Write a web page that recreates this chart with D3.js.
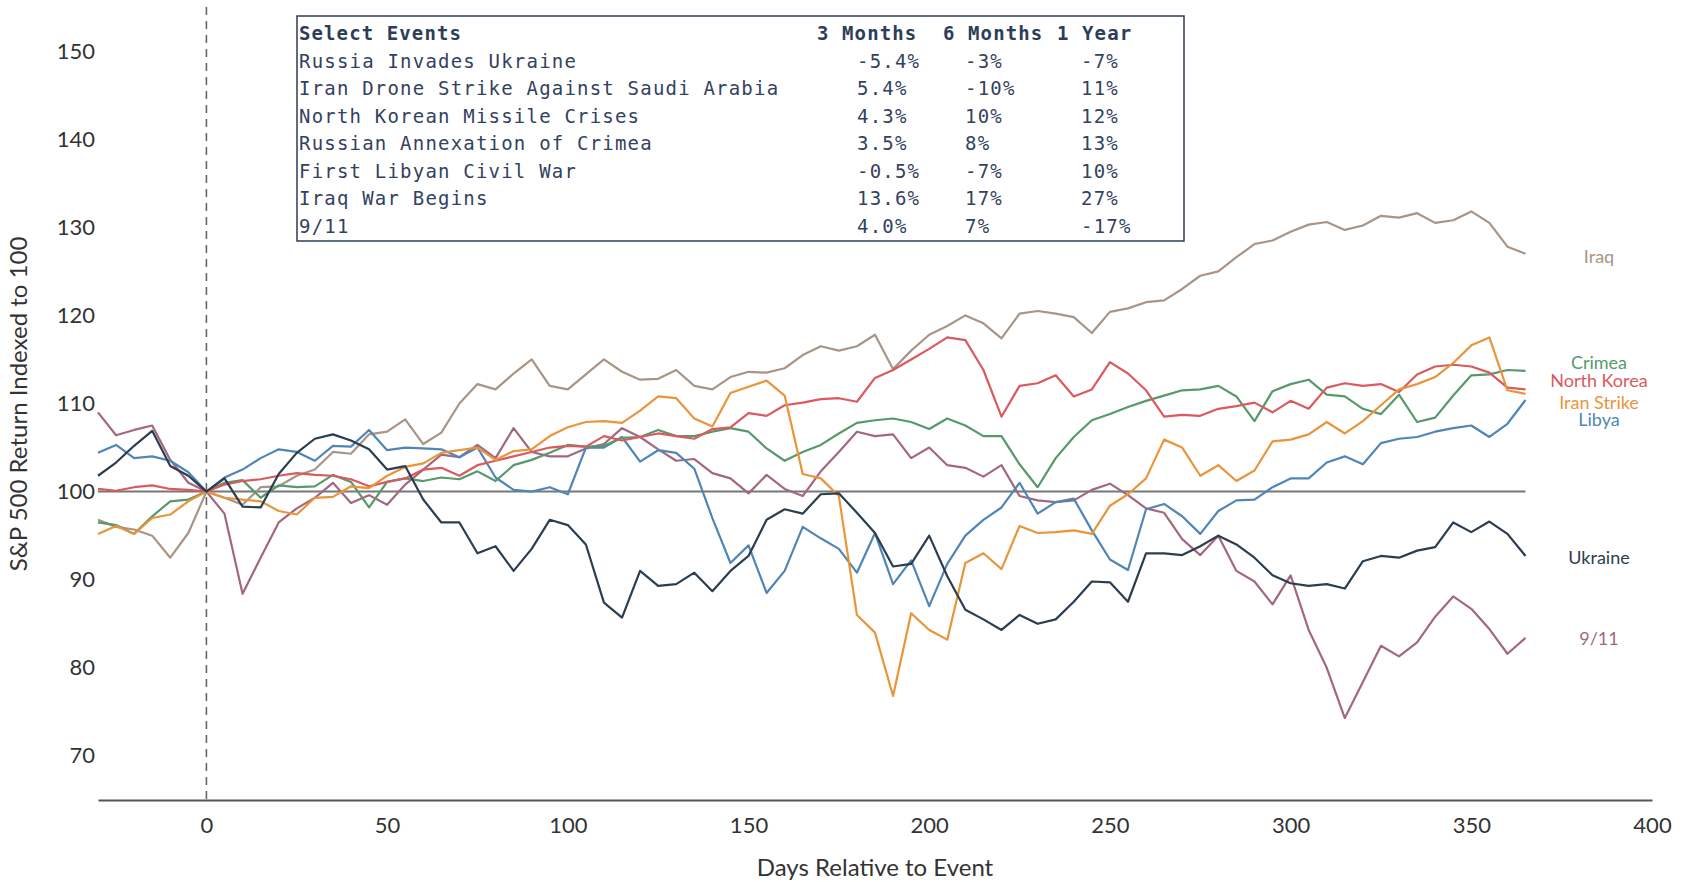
<!DOCTYPE html>
<html>
<head>
<meta charset="utf-8">
<script src="https://cdn.jsdelivr.net/npm/d3@7"></script>
<style>
body { margin: 0; background: #fff; }
svg text { font-family: Lato, "Open Sans", sans-serif; }
.tbl text { font-family: "DejaVu Sans Mono", monospace; }
</style>
</head>
<body>
<svg id="chart" width="1688" height="882"></svg>
<script>
// days relative to event (x values shared by all series)
var days = [-30,-25,-20,-15,-10,-5,0,5,10,15,20,25,30,35,40,45,50,55,60,65,70,75,80,85,90,95,
  100,105,110,115,120,125,130,135,140,145,150,155,160,165,170,175,180,185,190,195,
  200,205,210,215,220,225,230,235,240,245,250,255,260,265,270,275,280,285,290,295,
  300,305,310,315,320,325,330,335,340,345,350,355,360,365];

// S&P 500 indexed to 100
var iraq = [96.8,96,95.7,95,92.5,95.3,100,99.3,98.5,100.5,100.6,101.8,102.5,104.5,104.3,106.5,106.8,108.2,105.4,106.7,110,112.2,111.6,113.4,115,112,
  111.6,113.3,115,113.6,112.7,112.8,113.8,112,111.6,113,113.6,113.5,114,115.5,116.5,116,116.5,117.8,113.9,116,
  117.8,118.8,120,119.1,117.4,120.2,120.5,120.2,119.8,118,120.4,120.8,121.5,121.7,123,124.5,125,126.6,128.1,128.5,
  129.5,130.3,130.6,129.7,130.2,131.3,131.1,131.6,130.5,130.8,131.8,130.5,127.8,127];
var crimea = [96.5,96.2,95.2,97.2,98.9,99.1,100,101,101.3,99.3,100.7,100.5,100.6,101.9,101.1,98.2,101.1,101.5,101.2,101.6,101.4,102.3,101.2,103,103.6,104.4,
  105.3,105.1,105.2,106.1,106.2,107,106.3,106.3,106.8,107.2,106.8,104.9,103.5,104.5,105.3,106.6,107.8,108.1,108.3,107.9,
  107.1,108.3,107.5,106.3,106.3,103.1,100.5,103.8,106.2,108.1,108.8,109.6,110.3,110.9,111.5,111.6,112,110.8,108,111.4,
  112.2,112.7,111,110.8,109.4,108.8,111,107.9,108.4,110.9,113.2,113.3,113.8,113.7];
var northKorea = [100.3,100.1,100.5,100.7,100.3,100.2,100,100.8,101.2,101.4,101.8,102.1,101.9,101.8,101.4,100.6,101.1,101.5,102.5,102.7,101.8,103,103.5,104,104.5,105,
  105.2,105.1,106.3,105.8,106.2,106.6,106.3,106,107.1,107.3,108.9,108.6,109.8,110.1,110.5,110.6,110.2,112.9,113.8,115,
  116.2,117.5,117.2,113.8,108.5,112,112.3,113.2,110.8,111.6,114.7,113.4,111.5,108.5,108.7,108.6,109.4,109.7,110.1,109,
  110.3,109.4,111.8,112.3,112,112.2,111.3,113.3,114.2,114.4,114.2,113.5,111.8,111.6];
var iranStrike = [95.2,96.1,95.2,97,97.4,98.9,100,99.3,99.1,98.9,97.8,97.4,99.3,99.4,100.6,100.4,101.8,102.8,103.2,104.4,104.7,105,103.6,104.6,104.8,106.3,
  107.3,107.9,108,107.8,109.2,110.8,110.6,108.3,107.4,111.2,111.9,112.6,110.9,102,101.5,99.5,86,84,76.8,86.2,
  84.3,83.2,91.9,93,91.2,96.1,95.3,95.4,95.6,95.2,98.4,99.7,101.5,105.9,105,101.8,103,101.2,102.4,105.7,
  105.9,106.5,107.9,106.6,108,109.8,111.6,112.2,113,114.6,116.6,117.5,111.5,111.1];
var libya = [104.4,105.3,103.8,104,103.5,102.2,100,101.6,102.5,103.8,104.8,104.5,103.5,105.2,105.1,107,104.7,105,104.9,104.8,103.9,105,101.6,100.2,100,100.5,
  99.7,105,105,106.2,103.4,104.7,104.4,102.6,97,91.9,93.9,88.5,91,96,94.7,93.5,90.8,95.3,89.5,92.2,
  87,91.8,95,96.8,98.2,101,97.5,98.8,99.2,95.6,92.3,91.1,98,98.6,97.2,95.2,97.8,99,99.1,100.5,
  101.5,101.5,103.3,104,103.1,105.5,106,106.2,106.8,107.2,107.5,106.2,107.7,110.4];
var ukraine = [101.8,103.3,105.2,106.9,102.9,101.8,100,101.5,98.3,98.2,102,104.4,106,106.5,105.8,104.8,102.5,102.9,99.1,96.5,96.5,93,93.8,91,93.5,96.8,
  96.2,94,87.4,85.7,91,89.3,89.5,90.8,88.7,91,92.7,96.8,98,97.5,99.7,99.8,97.6,95.3,91.5,91.8,
  95,90.4,86.6,85.5,84.3,86,85,85.5,87.5,89.8,89.7,87.5,93,93,92.8,93.8,95,94,92.5,90.5,
  89.6,89.3,89.5,89,92.1,92.7,92.5,93.3,93.7,96.5,95.4,96.6,95.2,92.7];
var nineEleven = [109,106.4,107,107.5,103.6,101,100,97.5,88.4,92.5,96.5,98.1,99.3,101,98.7,99.6,98.5,100.8,102.5,104.2,103.9,105.3,103.8,107.2,104.5,104,
  104,104.9,105.4,107.2,106.2,104.8,103.5,103.7,102.1,101.5,99.8,101.9,100.3,99.5,102.3,104.5,106.8,106.3,106.5,103.8,
  105,103,102.7,101.7,103,99.5,99,98.8,99,100.2,100.9,99.6,98.1,97.6,94.6,92.8,95,91,89.8,87.2,
  90.5,84.3,80,74.3,78.4,82.5,81.3,82.9,85.8,88.1,86.7,84.4,81.6,83.4];

var seriesNames = ["Iraq", "9/11", "Libya", "Crimea", "North Korea", "Iran Strike", "Ukraine"];
var seriesValues = [iraq, nineEleven, libya, crimea, northKorea, iranStrike, ukraine];

// table
var tableHeader = ["Select Events", "3 Months", "6 Months", "1 Year"];
var eventNames = ["Russia Invades Ukraine", "Iran Drone Strike Against Saudi Arabia", "North Korean Missile Crises",
  "Russian Annexation of Crimea", "First Libyan Civil War", "Iraq War Begins", "9/11"];
var ret3m = ["-5.4%", "5.4%", "4.3%", "3.5%", "-0.5%", "13.6%", "4.0%"];
var ret6m = ["-3%", "-10%", "10%", "8%", "-7%", "17%", "7%"];
var ret1y = ["-7%", "11%", "12%", "13%", "10%", "27%", "-17%"];

var xTicks = [0, 50, 100, 150, 200, 250, 300, 350, 400];
var yTicks = [70, 80, 90, 100, 110, 120, 130, 140, 150];

// ---- drawing ----
var colors = {
  "Iraq": "#a89585", "9/11": "#a3687f", "Libya": "#4f86b7", "Crimea": "#57996a",
  "North Korea": "#d95a5f", "Iran Strike": "#e8953b", "Ukraine": "#2b3e50"
};
// where each end label sits, in index units
var labelAt = { "Iraq": 126.7, "Crimea": 114.6, "North Korea": 112.6, "Iran Strike": 110.1,
  "Libya": 108.2, "Ukraine": 92.5, "9/11": 83.3 };

var svg = d3.select("#chart");
var x = d3.scaleLinear().domain([-30, 400]).range([98, 1652]);
var y = d3.scaleLinear().domain([65, 155]).range([800, 7]);

// x axis
var gx = svg.append("g")
  .attr("transform", "translate(0,800)")
  .call(d3.axisBottom(x).tickValues(xTicks).tickSize(0).tickSizeOuter(0).tickPadding(17));
gx.select(".domain").attr("stroke", "#555").attr("stroke-width", 2);
gx.selectAll("text").attr("fill", "#333").style("font-size", "22px");

// y axis
var gy = svg.append("g")
  .attr("transform", "translate(98,0)")
  .call(d3.axisLeft(y).tickValues(yTicks).tickSize(0).tickPadding(3));
gy.select(".domain").remove();
gy.selectAll("text").attr("fill", "#333").style("font-size", "22px");

svg.append("text")
  .attr("x", 875).attr("y", 876)
  .attr("text-anchor", "middle")
  .attr("fill", "#333").style("font-size", "24px")
  .text("Days Relative to Event");

svg.append("text")
  .attr("transform", "translate(27,404) rotate(-90)")
  .attr("text-anchor", "middle")
  .attr("fill", "#333").style("font-size", "24px")
  .text("S&P 500 Return Indexed to 100");

// event day marker and baseline
svg.append("line")
  .attr("x1", x(0)).attr("x2", x(0)).attr("y1", y(155)).attr("y2", y(65))
  .attr("stroke", "#666").attr("stroke-width", 1.6).attr("stroke-dasharray", "8,6");
svg.append("line")
  .attr("x1", x(-30)).attr("x2", x(365)).attr("y1", y(100)).attr("y2", y(100))
  .attr("stroke", "#777").attr("stroke-width", 2);

var line = d3.line()
  .x(function (d) { return x(d[0]); })
  .y(function (d) { return y(d[1]); });

for (var i = 0; i < seriesNames.length; i++) {
  var pts = days.map(function (d, j) { return [d, seriesValues[i][j]]; });
  svg.append("path")
    .datum(pts)
    .attr("fill", "none")
    .attr("stroke", colors[seriesNames[i]])
    .attr("stroke-width", 2.2)
    .attr("stroke-linejoin", "round")
    .attr("d", line);

  svg.append("text")
    .attr("x", 1599).attr("y", y(labelAt[seriesNames[i]]))
    .attr("dy", "0.35em")
    .attr("text-anchor", "middle")
    .attr("fill", colors[seriesNames[i]])
    .style("font-size", "18px")
    .text(seriesNames[i]);
}

// table box
var tbl = svg.append("g").attr("class", "tbl");
tbl.append("rect")
  .attr("x", 297).attr("y", 16).attr("width", 887).attr("height", 225)
  .attr("fill", "#fff").attr("stroke", "#2e3d58").attr("stroke-width", 1.5);

var headX = [299, 817, 943, 1057];
var colX = [299, 857, 965, 1081];
var rowY = function (r) { return 33.5 + r * 27.5; };

tbl.selectAll("text.head").data(tableHeader).enter().append("text")
  .attr("class", "head")
  .attr("x", function (d, k) { return headX[k]; })
  .attr("y", rowY(0)).attr("dy", "0.36em")
  .attr("fill", "#2e3d58").style("font-size", "19px").style("font-weight", "bold")
  .style("letter-spacing", "1.1px")
  .text(function (d) { return d; });

var cols = [eventNames, ret3m, ret6m, ret1y];
cols.forEach(function (col, k) {
  tbl.selectAll("text.c" + k).data(col).enter().append("text")
    .attr("class", "c" + k)
    .attr("x", colX[k])
    .attr("y", function (d, r) { return rowY(r + 1); }).attr("dy", "0.36em")
    .attr("fill", "#33425e").style("font-size", "19px")
    .style("letter-spacing", "1.2px")
    .text(function (d) { return d; });
});
</script>
</body>
</html>
